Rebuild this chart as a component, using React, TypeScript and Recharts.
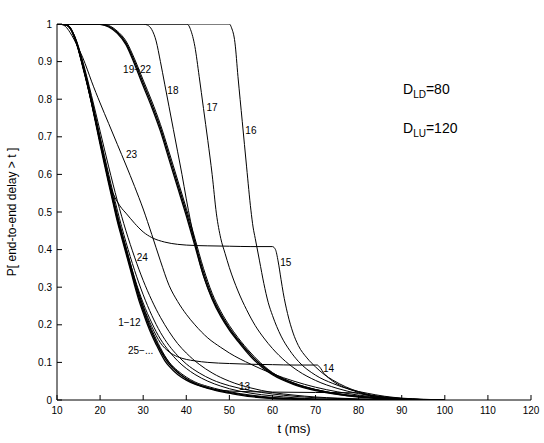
import { LineChart, Line, XAxis, YAxis, ReferenceDot, Label } from "recharts";

const W = 544;
const H = 443;
const PLOT = { left: 57, right: 531, top: 24, bottom: 400 };
const FONT = "'Liberation Sans', Arial, Helvetica, sans-serif";

const tTicks = [10, 20, 30, 40, 50, 60, 70, 80, 90, 100, 110, 120];
const pTicks = [0, 0.1, 0.2, 0.3, 0.4, 0.5, 0.6, 0.7, 0.8, 0.9, 1];
const pTickLabels = ["0", "0.1", "0.2", "0.3", "0.4", "0.5", "0.6", "0.7", "0.8", "0.9", "1"];

// [t (ms), P[delay > t]]
const c1a = [[10, 1], [12, 0.998], [13, 0.99], [14, 0.965], [15, 0.93], [16, 0.885], [17, 0.84], [18, 0.79], [19, 0.735], [20, 0.68], [21, 0.627], [22, 0.575], [23, 0.525], [24, 0.475], [25, 0.432], [26, 0.39], [27, 0.348], [28, 0.305], [29, 0.265], [30, 0.232], [31, 0.2], [32, 0.172], [33, 0.148], [34, 0.125], [35, 0.105], [36, 0.09], [38, 0.068], [40, 0.053], [42, 0.042], [45, 0.031], [48, 0.022], [50, 0.018], [55, 0.009], [60, 0.004], [65, 0.002], [70, 0.001], [80, 0]];
const c1b = [[10, 1], [12, 0.998], [13, 0.991], [14, 0.968], [15, 0.934], [16, 0.89], [17, 0.845], [18, 0.795], [19, 0.742], [20, 0.688], [21, 0.635], [22, 0.583], [23, 0.533], [24, 0.484], [25, 0.44], [26, 0.398], [27, 0.356], [28, 0.314], [29, 0.274], [30, 0.24], [31, 0.208], [32, 0.18], [33, 0.155], [34, 0.132], [35, 0.112], [36, 0.096], [38, 0.073], [40, 0.057], [42, 0.045], [45, 0.033], [48, 0.024], [50, 0.02], [55, 0.011], [60, 0.005], [65, 0.003], [70, 0.001], [80, 0]];
const c1c = [[10, 1], [12, 0.998], [13, 0.992], [14, 0.97], [15, 0.938], [16, 0.895], [17, 0.851], [18, 0.802], [19, 0.75], [20, 0.697], [21, 0.644], [22, 0.592], [23, 0.542], [24, 0.493], [25, 0.449], [26, 0.407], [27, 0.365], [28, 0.323], [29, 0.283], [30, 0.248], [31, 0.216], [32, 0.187], [33, 0.162], [34, 0.139], [35, 0.118], [36, 0.101], [38, 0.078], [40, 0.061], [42, 0.048], [45, 0.036], [48, 0.027], [50, 0.022], [55, 0.013], [60, 0.007], [65, 0.004], [70, 0.002], [80, 0.001], [90, 0]];
const c25a = [[10, 1], [12, 0.998], [14, 0.967], [16, 0.888], [18, 0.795], [20, 0.688], [22, 0.585], [24, 0.49], [26, 0.405], [28, 0.325], [30, 0.258], [32, 0.205], [34, 0.162], [36, 0.13], [38, 0.104], [40, 0.084], [42, 0.068], [45, 0.05], [48, 0.037], [50, 0.03], [55, 0.018], [60, 0.011], [65, 0.006], [70, 0.003], [80, 0.001], [90, 0]];
const c25b = [[10, 1], [12, 0.998], [14, 0.968], [16, 0.89], [18, 0.8], [20, 0.7], [22, 0.6], [24, 0.505], [26, 0.42], [28, 0.345], [30, 0.28], [32, 0.225], [34, 0.18], [36, 0.145], [38, 0.118], [40, 0.096], [43, 0.072], [46, 0.054], [50, 0.038], [55, 0.025], [60, 0.016], [65, 0.01], [70, 0.006], [75, 0.004], [80, 0.002], [90, 0]];
const c24 = [[10, 1], [12, 0.998], [14, 0.97], [16, 0.9], [18, 0.81], [20, 0.715], [22, 0.62], [24, 0.53], [26, 0.45], [28, 0.38], [30, 0.318], [32, 0.265], [34, 0.22], [36, 0.182], [38, 0.15], [40, 0.125], [43, 0.095], [46, 0.072], [50, 0.05], [55, 0.032], [60, 0.02], [65, 0.013], [70, 0.008], [75, 0.005], [80, 0.003], [90, 0.001], [95, 0]];
const c23 = [[10, 1], [11, 0.999], [12, 0.993], [13, 0.978], [14, 0.958], [15, 0.935], [16, 0.91], [17, 0.88], [18, 0.848], [20, 0.79], [22, 0.735], [24, 0.68], [26, 0.625], [28, 0.568], [30, 0.508], [32, 0.44], [34, 0.37], [36, 0.305], [38, 0.262], [40, 0.228], [42, 0.2], [45, 0.165], [48, 0.14], [50, 0.125], [55, 0.095], [60, 0.07], [65, 0.05], [70, 0.034], [75, 0.022], [80, 0.013], [85, 0.007], [90, 0.003], [95, 0.001], [100, 0]];
const c15 = [[10, 1], [12, 0.998], [14, 0.967], [16, 0.888], [18, 0.79], [20, 0.685], [21, 0.635], [22, 0.58], [23, 0.55], [24, 0.527], [25, 0.51], [26, 0.497], [28, 0.47], [30, 0.447], [32, 0.432], [35, 0.42], [38, 0.414], [40, 0.412], [45, 0.41], [50, 0.409], [55, 0.408], [60, 0.408], [60.7, 0.4], [61.3, 0.37], [62, 0.32], [62.5, 0.285], [63.5, 0.23], [64.8, 0.178], [66, 0.145], [68, 0.112], [70, 0.088], [72, 0.068], [74, 0.053], [77, 0.035], [80, 0.022], [83, 0.013], [86, 0.008], [90, 0.004], [95, 0.001], [100, 0]];
const c14 = [[10, 1], [12, 0.998], [14, 0.967], [16, 0.888], [18, 0.792], [20, 0.688], [22, 0.583], [24, 0.485], [26, 0.4], [28, 0.32], [30, 0.25], [32, 0.195], [34, 0.152], [36, 0.128], [38, 0.115], [40, 0.108], [42, 0.104], [45, 0.1], [50, 0.097], [55, 0.095], [60, 0.094], [65, 0.093], [70.4, 0.093], [71, 0.087], [72, 0.07], [73, 0.059], [75, 0.043], [78, 0.028], [80, 0.02], [83, 0.012], [86, 0.007], [90, 0.003], [95, 0.001], [100, 0]];
const c13 = [[10, 1], [12, 0.998], [14, 0.966], [16, 0.886], [18, 0.79], [20, 0.685], [22, 0.58], [24, 0.48], [26, 0.395], [28, 0.312], [30, 0.24], [32, 0.18], [34, 0.135], [36, 0.1], [38, 0.075], [40, 0.056], [42, 0.043], [45, 0.032], [48, 0.026], [50, 0.024], [55, 0.022], [60, 0.021], [70, 0.02], [80, 0.019], [81, 0.016], [83, 0.01], [86, 0.005], [90, 0.002], [95, 0]];
const c19a = [[10, 1], [19, 1], [20, 0.999], [22, 0.992], [24, 0.975], [26, 0.945], [28, 0.893], [30, 0.835], [32, 0.778], [34, 0.715], [36, 0.64], [38, 0.565], [40, 0.49], [42, 0.41], [44, 0.33], [46, 0.268], [48, 0.222], [50, 0.186], [52, 0.156], [55, 0.115], [58, 0.083], [60, 0.067], [65, 0.041], [70, 0.025], [75, 0.015], [80, 0.008], [85, 0.004], [90, 0.002], [95, 0.001], [100, 0]];
const c19b = [[10, 1], [19.5, 1], [20.5, 0.999], [22, 0.994], [24, 0.978], [26, 0.95], [28, 0.9], [30, 0.843], [32, 0.786], [34, 0.724], [36, 0.65], [38, 0.575], [40, 0.5], [42, 0.42], [44, 0.34], [46, 0.276], [48, 0.229], [50, 0.192], [52, 0.161], [55, 0.12], [58, 0.087], [60, 0.07], [65, 0.043], [70, 0.027], [75, 0.016], [80, 0.009], [85, 0.005], [90, 0.002], [95, 0.001], [100, 0]];
const c19c = [[10, 1], [20, 1], [21, 0.999], [22, 0.996], [24, 0.981], [26, 0.955], [28, 0.907], [30, 0.851], [32, 0.795], [34, 0.733], [36, 0.66], [38, 0.585], [40, 0.51], [42, 0.43], [44, 0.35], [46, 0.284], [48, 0.236], [50, 0.198], [52, 0.166], [55, 0.125], [58, 0.091], [60, 0.073], [65, 0.045], [70, 0.028], [75, 0.017], [80, 0.01], [85, 0.005], [90, 0.002], [95, 0.001], [100, 0]];
const c18 = [[10, 1], [30, 1], [31, 0.997], [32, 0.985], [33, 0.955], [34, 0.9], [35, 0.84], [36, 0.78], [37, 0.72], [38, 0.66], [39, 0.6], [40, 0.535], [41, 0.475], [42, 0.42], [43, 0.37], [44, 0.33], [46, 0.27], [48, 0.225], [50, 0.188], [52, 0.158], [55, 0.12], [58, 0.088], [60, 0.072], [65, 0.045], [70, 0.028], [75, 0.017], [80, 0.01], [85, 0.005], [90, 0.002], [95, 0.001], [100, 0]];
const c17 = [[10, 1], [40, 1], [40.5, 0.997], [41, 0.985], [42, 0.94], [43, 0.86], [44, 0.775], [45, 0.69], [46, 0.6], [47, 0.495], [48, 0.43], [49, 0.39], [50, 0.352], [52, 0.29], [54, 0.24], [56, 0.198], [58, 0.165], [60, 0.137], [63, 0.103], [66, 0.077], [70, 0.052], [75, 0.031], [80, 0.017], [85, 0.009], [90, 0.004], [95, 0.001], [100, 0]];
const c16 = [[10, 1], [50, 1], [50.5, 0.99], [51.3, 0.95], [52, 0.86], [53, 0.74], [54, 0.62], [55, 0.505], [55.5, 0.46], [56, 0.43], [57, 0.37], [58, 0.31], [59, 0.26], [60, 0.225], [62, 0.17], [64, 0.132], [66, 0.103], [70, 0.066], [74, 0.044], [78, 0.028], [82, 0.018], [86, 0.01], [90, 0.005], [95, 0.002], [100, 0]];

const curves = [
  { id: "1-12a", pts: c1a, w: 1.3 },
  { id: "1-12b", pts: c1b, w: 1.3 },
  { id: "1-12c", pts: c1c, w: 1 },
  { id: "25a", pts: c25a, w: 1 },
  { id: "25b", pts: c25b, w: 1 },
  { id: "24", pts: c24, w: 1 },
  { id: "23", pts: c23, w: 1 },
  { id: "15", pts: c15, w: 1 },
  { id: "14", pts: c14, w: 1 },
  { id: "13", pts: c13, w: 1 },
  { id: "19-22a", pts: c19a, w: 1.3 },
  { id: "19-22b", pts: c19b, w: 1.3 },
  { id: "19-22c", pts: c19c, w: 1 },
  { id: "18", pts: c18, w: 1 },
  { id: "17", pts: c17, w: 1 },
  { id: "16", pts: c16, w: 1 },
];

const notes = [
  { text: "19−22", t: 28.6, p: 0.878 },
  { text: "18", t: 36.9, p: 0.824 },
  { text: "17", t: 46.0, p: 0.777 },
  { text: "16", t: 55.0, p: 0.716 },
  { text: "23", t: 27.3, p: 0.652 },
  { text: "24", t: 29.8, p: 0.378 },
  { text: "15", t: 63.1, p: 0.366 },
  { text: "1−12", t: 26.8, p: 0.206 },
  { text: "25−...", t: 29.4, p: 0.131 },
  { text: "14", t: 73.0, p: 0.083 },
  { text: "13", t: 53.5, p: 0.037 },
];

const params = [
  { sub: "LD", value: "=80", t: 90.3, p: 0.815 },
  { sub: "LU", value: "=120", t: 90.3, p: 0.71 },
];

const toRows = (pts: number[][]) => pts.map(([t, p]) => ({ t, p }));

const BottomTick = (props: any) => {
  const { x, payload } = props;
  return (
    <g>
      <line x1={x} x2={x} y1={PLOT.bottom} y2={PLOT.bottom - 5} stroke="#000" />
      <text x={x} y={PLOT.bottom + 14} textAnchor="middle" fontSize={10} fontFamily={FONT} fill="#000">
        {payload.value}
      </text>
    </g>
  );
};

const TopTick = (props: any) => {
  const { x } = props;
  return <line x1={x} x2={x} y1={PLOT.top} y2={PLOT.top + 5} stroke="#000" />;
};

const LeftTick = (props: any) => {
  const { y, index } = props;
  return (
    <g>
      <line x1={PLOT.left} x2={PLOT.left + 5} y1={y} y2={y} stroke="#000" />
      <text x={PLOT.left - 5} y={y + 3.5} textAnchor="end" fontSize={10} fontFamily={FONT} fill="#000">
        {pTickLabels[index]}
      </text>
    </g>
  );
};

const RightTick = (props: any) => {
  const { y } = props;
  return <line x1={PLOT.right} x2={PLOT.right - 5} y1={y} y2={y} stroke="#000" />;
};

export default function App() {
  return (
    <div style={{ position: "absolute", left: 0, top: 0, width: W, height: H, background: "#fff" }}>
      <LineChart
        width={W}
        height={H}
        margin={{ top: PLOT.top, right: W - PLOT.right, bottom: 0, left: 0 }}
      >
        <XAxis
          dataKey="t"
          type="number"
          domain={[10, 120]}
          ticks={tTicks}
          height={H - PLOT.bottom}
          axisLine={{ stroke: "#000" }}
          tickLine={false}
          tick={BottomTick}
          interval={0}
          allowDataOverflow
        >
          <Label
            content={() => (
              <text x={(PLOT.left + PLOT.right) / 2} y={433} textAnchor="middle" fontSize={13} fontFamily={FONT} fill="#000">
                t (ms)
              </text>
            )}
          />
        </XAxis>
        <XAxis
          xAxisId="top"
          orientation="top"
          dataKey="t"
          type="number"
          domain={[10, 120]}
          ticks={tTicks}
          height={0}
          axisLine={{ stroke: "#000" }}
          tickLine={false}
          tick={TopTick}
          interval={0}
        >
          <Label
            content={() => (
              <text x={(PLOT.left + PLOT.right) / 2} y={15} textAnchor="middle" fontSize={13} fontFamily={FONT} fill="#000">
                Post−Registration: infinite buffers at oFA and nFA
              </text>
            )}
          />
        </XAxis>
        <YAxis
          type="number"
          domain={[0, 1]}
          ticks={pTicks}
          width={PLOT.left}
          axisLine={{ stroke: "#000" }}
          tickLine={false}
          tick={LeftTick}
          interval={0}
          allowDataOverflow
        >
          <Label
            content={() => (
              <text x={16} y={212} transform="rotate(-90 16 212)" textAnchor="middle" fontSize={12} fontFamily={FONT} fill="#000">
                P[ end-to-end delay &gt; t ]
              </text>
            )}
          />
        </YAxis>
        <YAxis
          yAxisId="right"
          orientation="right"
          type="number"
          domain={[0, 1]}
          ticks={pTicks}
          width={0}
          axisLine={{ stroke: "#000" }}
          tickLine={false}
          tick={RightTick}
          interval={0}
        />
        {curves.map((c) => (
          <Line
            key={c.id}
            data={toRows(c.pts)}
            dataKey="p"
            type="monotone"
            stroke="#000"
            strokeWidth={c.w}
            dot={false}
            isAnimationActive={false}
          />
        ))}
        {notes.map((n) => (
          <ReferenceDot
            key={n.text}
            x={n.t}
            y={n.p}
            r={0}
            fill="none"
            stroke="none"
            label={{ value: n.text, position: "center", fontSize: 10, fill: "#000", fontFamily: FONT }}
          />
        ))}
        {params.map((d) => (
          <ReferenceDot
            key={d.sub}
            x={d.t}
            y={d.p}
            r={0}
            fill="none"
            stroke="none"
            label={{
              content: (props: any) => {
                const vb = props.viewBox || {};
                return (
                  <text x={vb.x} y={vb.y} fontSize={14} fontFamily={FONT} fill="#000">
                    D
                    <tspan dy={4} fontSize={10}>{d.sub}</tspan>
                    <tspan dy={-4}>{d.value}</tspan>
                  </text>
                );
              },
            }}
          />
        ))}
      </LineChart>
    </div>
  );
}
